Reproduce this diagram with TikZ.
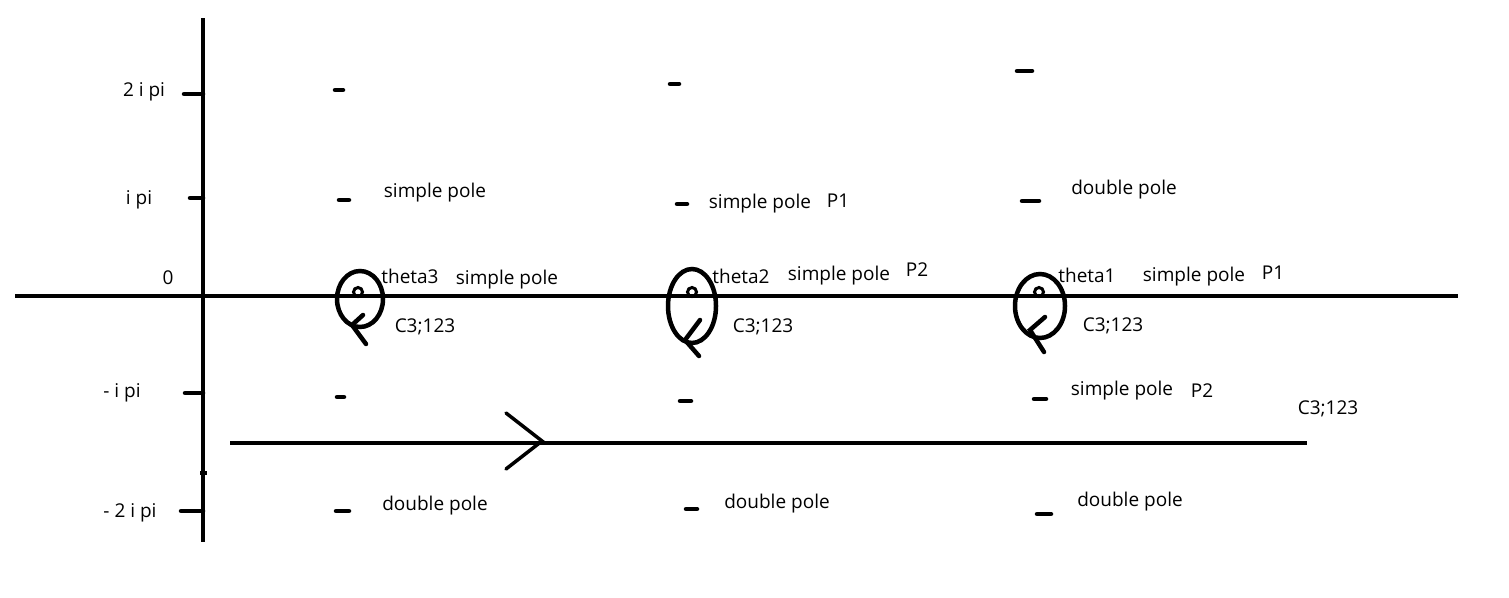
\documentclass[tikz,border=0pt]{standalone}
\usepackage{fontspec}
\setmainfont{Open Sans}
\begin{document}
\begin{tikzpicture}[x=1pt,y=-1pt,
  ax/.style={line width=4.5pt},
  tick/.style={line width=4.5pt,line cap=round},
  lbl/.style={inner sep=0pt,font=\fontsize{19}{21}\selectfont},
  loop/.style={line width=4.5pt},
  dot/.style={circle,draw,line width=3pt,minimum size=9pt,inner sep=0pt}]
\useasboundingbox (0,0) rectangle (1509,597);
% axes
\coordinate (yt) at (203,18); \coordinate (yb) at (203,542);
\coordinate (xl) at (15,296); \coordinate (xr) at (1458,296);
\draw[ax] (yt) -- (yb);
\draw[ax] (xl) -- (xr);
\fill (200,471) rectangle (207,475);
% y ticks
\coordinate (t1) at (184,94); \coordinate (t1e) at (203,94);
\coordinate (t2) at (190,198); \coordinate (t2e) at (203,198);
\coordinate (t3) at (185,393); \coordinate (t3e) at (203,393);
\coordinate (t4) at (181,511); \coordinate (t4e) at (203,511);
\draw[tick] (t1) -- (t1e);
\draw[tick] (t2) -- (t2e);
\draw[tick] (t3) -- (t3e);
\draw[tick] (t4) -- (t4e);
\node[lbl] (l1) at (144,92) {2 i pi};
\node[lbl] (l2) at (139,200) {i pi};
\node[lbl] (l0) at (168,278) {0};
\node[lbl] (l3) at (122,393) {- i pi};
\node[lbl] (l4) at (130,513) {- 2 i pi};
% pole dashes
\foreach \n/\a/\b/\y in {a1/335/343/90, a2/339/349/200, a3/337/344/397, a4/336/349/511,
  b1/670/679/84, b2/677/687/204, b3/680/691/401, b4/686/697/509,
  c1/1017/1032/71, c2/1022/1039/201, c3/1034/1046/399, c4/1037/1051/514}{
  \coordinate (\n s) at (\a,\y); \coordinate (\n e) at (\b,\y);
  \draw[tick] (\n s) -- (\n e);
}
% loops
\draw[loop] (360,299) ellipse [x radius=23, y radius=28];
\node[dot] (d1) at (358,292) {};
\coordinate (v1a) at (363,315); \coordinate (v1b) at (352,325); \coordinate (v1c) at (366,344);
\draw[tick] (v1a) -- (v1b) -- (v1c);
\draw[loop] (692,306) ellipse [x radius=24, y radius=37];
\node[dot] (d2) at (692,292) {};
\coordinate (v2a) at (700,320); \coordinate (v2b) at (685,340); \coordinate (v2c) at (699,356);
\draw[tick] (v2a) -- (v2b) -- (v2c);
\draw[loop] (1040,306) ellipse [x radius=25, y radius=32];
\node[dot] (d3) at (1039,292) {};
\coordinate (v3a) at (1045,317); \coordinate (v3b) at (1030,330); \coordinate (v3c) at (1044,352);
\draw[tick] (v3a) -- (v3b) -- (v3c);
% contour line
\coordinate (cl) at (230,443); \coordinate (cr) at (1307,443);
\draw[line width=3.5pt] (cl) -- (cr);
\coordinate (h1) at (506,413); \coordinate (h2) at (542,441); \coordinate (h3) at (506,469);
\draw[line width=3.5pt,line cap=round] (h1) -- (h2) -- (h3);
% labels
\node[lbl] (s1) at (435,193) {simple pole};
\node[lbl] (s2) at (760,204) {simple pole};
\node[lbl] (p1a) at (838,201) {P1};
\node[lbl] (dp1) at (1124,190) {double pole};
\node[lbl] (th3) at (410,276) {theta3};
\node[lbl] (s3) at (507,280) {simple pole};
\node[lbl] (th2) at (741,276) {theta2};
\node[lbl] (s4) at (839,276) {simple pole};
\node[lbl] (p2a) at (917,270) {P2};
\node[lbl] (th1) at (1087,275) {theta1};
\node[lbl] (s5) at (1194,277) {simple pole};
\node[lbl] (p1b) at (1273,273) {P1};
\node[lbl] (c1) at (425,327) {C3;123};
\node[lbl] (c2) at (763,327) {C3;123};
\node[lbl] (c3) at (1113,326) {C3;123};
\node[lbl] (s6) at (1122,391) {simple pole};
\node[lbl] (p2b) at (1202,391) {P2};
\node[lbl] (c4) at (1328,409) {C3;123};
\node[lbl] (dp2) at (435,506) {double pole};
\node[lbl] (dp3) at (777,504) {double pole};
\node[lbl] (dp4) at (1130,502) {double pole};
\end{tikzpicture}
\end{document}
